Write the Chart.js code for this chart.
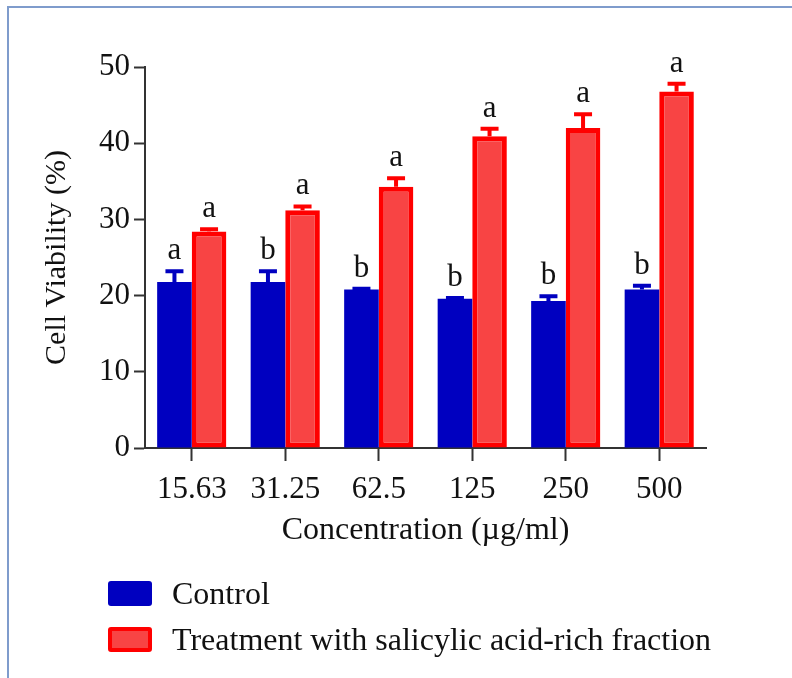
<!DOCTYPE html>
<html>
<head>
<meta charset="utf-8">
<script src="https://cdn.jsdelivr.net/npm/chart.js@4.4.1/dist/chart.umd.min.js"></script>
<style>
    body { margin: 0; background: #fff; }
    #wrap { position: relative; width: 792px; height: 678px; }
    #frame { position: absolute; left: 7px; top: 6px; right: -4px; bottom: -4px; border-top: 2px solid #7f9ccc; border-left: 2px solid #7f9ccc; }
    #legend { position: absolute; left: 108px; top: 570px; font-family: 'Liberation Serif', 'Times New Roman', serif; font-size: 32px; color: #111; }
    .item { display: flex; align-items: center; height: 46px; }
    .box { width: 44px; height: 25px; box-sizing: border-box; border-radius: 3px; margin-right: 20px; }
</style>
</head>
<body>
<div id="wrap">
    <div id="frame"></div>
    <canvas id="chart"></canvas>
    <div id="legend"></div>
</div>
<script>
const concentrations = ['15.63', '31.25', '62.5', '125', '250', '500'];
const controlValues = [21.8, 21.8, 20.8, 19.6, 19.3, 20.8];
const controlErrors = [1.4, 1.4, 0.1, 0.1, 0.6, 0.5];
const controlLetters = ['a', 'b', 'b', 'b', 'b', 'b'];
const treatmentValues = [28.4, 31.2, 34.3, 40.9, 42.0, 46.8];
const treatmentErrors = [0.3, 0.5, 1.1, 1.0, 1.8, 1.0];
const treatmentLetters = ['a', 'a', 'a', 'a', 'a', 'a'];

const serif = "'Liberation Serif', 'Times New Roman', serif";

// error bars + significance letters drawn on top of the bars
const errorBarPlugin = {
    id: 'errorBars',
    afterDatasetsDraw(chart) {
        const ctx = chart.ctx;
        const yScale = chart.scales.y;
        chart.data.datasets.forEach((ds, i) => {
            const meta = chart.getDatasetMeta(i);
            meta.data.forEach((bar, j) => {
                const top = yScale.getPixelForValue(ds.data[j] + ds.errors[j]);
                ctx.save();
                ctx.strokeStyle = ds.borderColor;
                ctx.lineWidth = 4;
                ctx.beginPath();
                ctx.moveTo(bar.x, bar.y);
                ctx.lineTo(bar.x, top);
                ctx.moveTo(bar.x - 9, top);
                ctx.lineTo(bar.x + 9, top);
                ctx.stroke();
                ctx.fillStyle = '#111';
                ctx.font = '31px ' + serif;
                ctx.textAlign = 'center';
                ctx.textBaseline = 'alphabetic';
                ctx.fillText(ds.letters[j], bar.x, top - 12);
                ctx.restore();
            });
        });
    }
};

const chart = new Chart(document.getElementById('chart'), {
    type: 'bar',
    data: {
        labels: concentrations,
        datasets: [{
            label: 'Control',
            data: controlValues,
            errors: controlErrors,
            letters: controlLetters,
            backgroundColor: '#0000c0',
            borderColor: '#0000c0',
            borderWidth: 0
        }, {
            label: 'Treatment with salicylic acid-rich fraction',
            data: treatmentValues,
            errors: treatmentErrors,
            letters: treatmentLetters,
            backgroundColor: '#f84444',
            borderColor: '#ff0000',
            borderWidth: 5,
            borderSkipped: false
        }]
    },
    options: {
        responsive: true,
        maintainAspectRatio: false,
        animation: false,
        categoryPercentage: 0.74,
        barPercentage: 1,
        layout: {
            padding: { left: 0, right: 86, top: 67, bottom: 120 }
        },
        plugins: {
            legend: { display: false },
            tooltip: { enabled: false }
        },
        scales: {
            x: {
                afterFit: (scale) => { scale.height = 110; },
                grid: {
                    display: true,
                    offset: false,
                    drawOnChartArea: false,
                    drawTicks: true,
                    tickLength: 13,
                    tickColor: '#333',
                    tickWidth: 2
                },
                border: { display: true, color: '#333', width: 2 },
                ticks: {
                    color: '#111',
                    padding: 10,
                    font: { family: serif, size: 31 }
                },
                title: {
                    display: true,
                    text: 'Concentration (µg/ml)',
                    color: '#111',
                    padding: { top: 0, bottom: 8 },
                    font: { family: serif, size: 32 }
                }
            },
            y: {
                min: 0,
                max: 50,
                afterFit: (scale) => { scale.width = 145; },
                grid: {
                    display: true,
                    drawOnChartArea: false,
                    drawTicks: true,
                    tickLength: 11,
                    tickColor: '#333',
                    tickWidth: 2
                },
                border: { display: true, color: '#333', width: 2 },
                ticks: {
                    stepSize: 10,
                    color: '#111',
                    padding: 4,
                    font: { family: serif, size: 31 }
                },
                title: {
                    display: true,
                    text: 'Cell Viability (%)',
                    color: '#111',
                    padding: { top: 39, bottom: 0 },
                    font: { family: serif, size: 30 }
                }
            }
        }
    },
    plugins: [errorBarPlugin]
});

// legend built from the chart's datasets
const legendDiv = document.getElementById('legend');
chart.data.datasets.forEach(ds => {
    const item = document.createElement('div');
    item.className = 'item';
    const box = document.createElement('span');
    box.className = 'box';
    box.style.background = ds.backgroundColor;
    box.style.border = ds.borderWidth ? '4px solid ' + ds.borderColor : 'none';
    item.appendChild(box);
    item.appendChild(document.createTextNode(ds.label));
    legendDiv.appendChild(item);
});
</script>
</body>
</html>
